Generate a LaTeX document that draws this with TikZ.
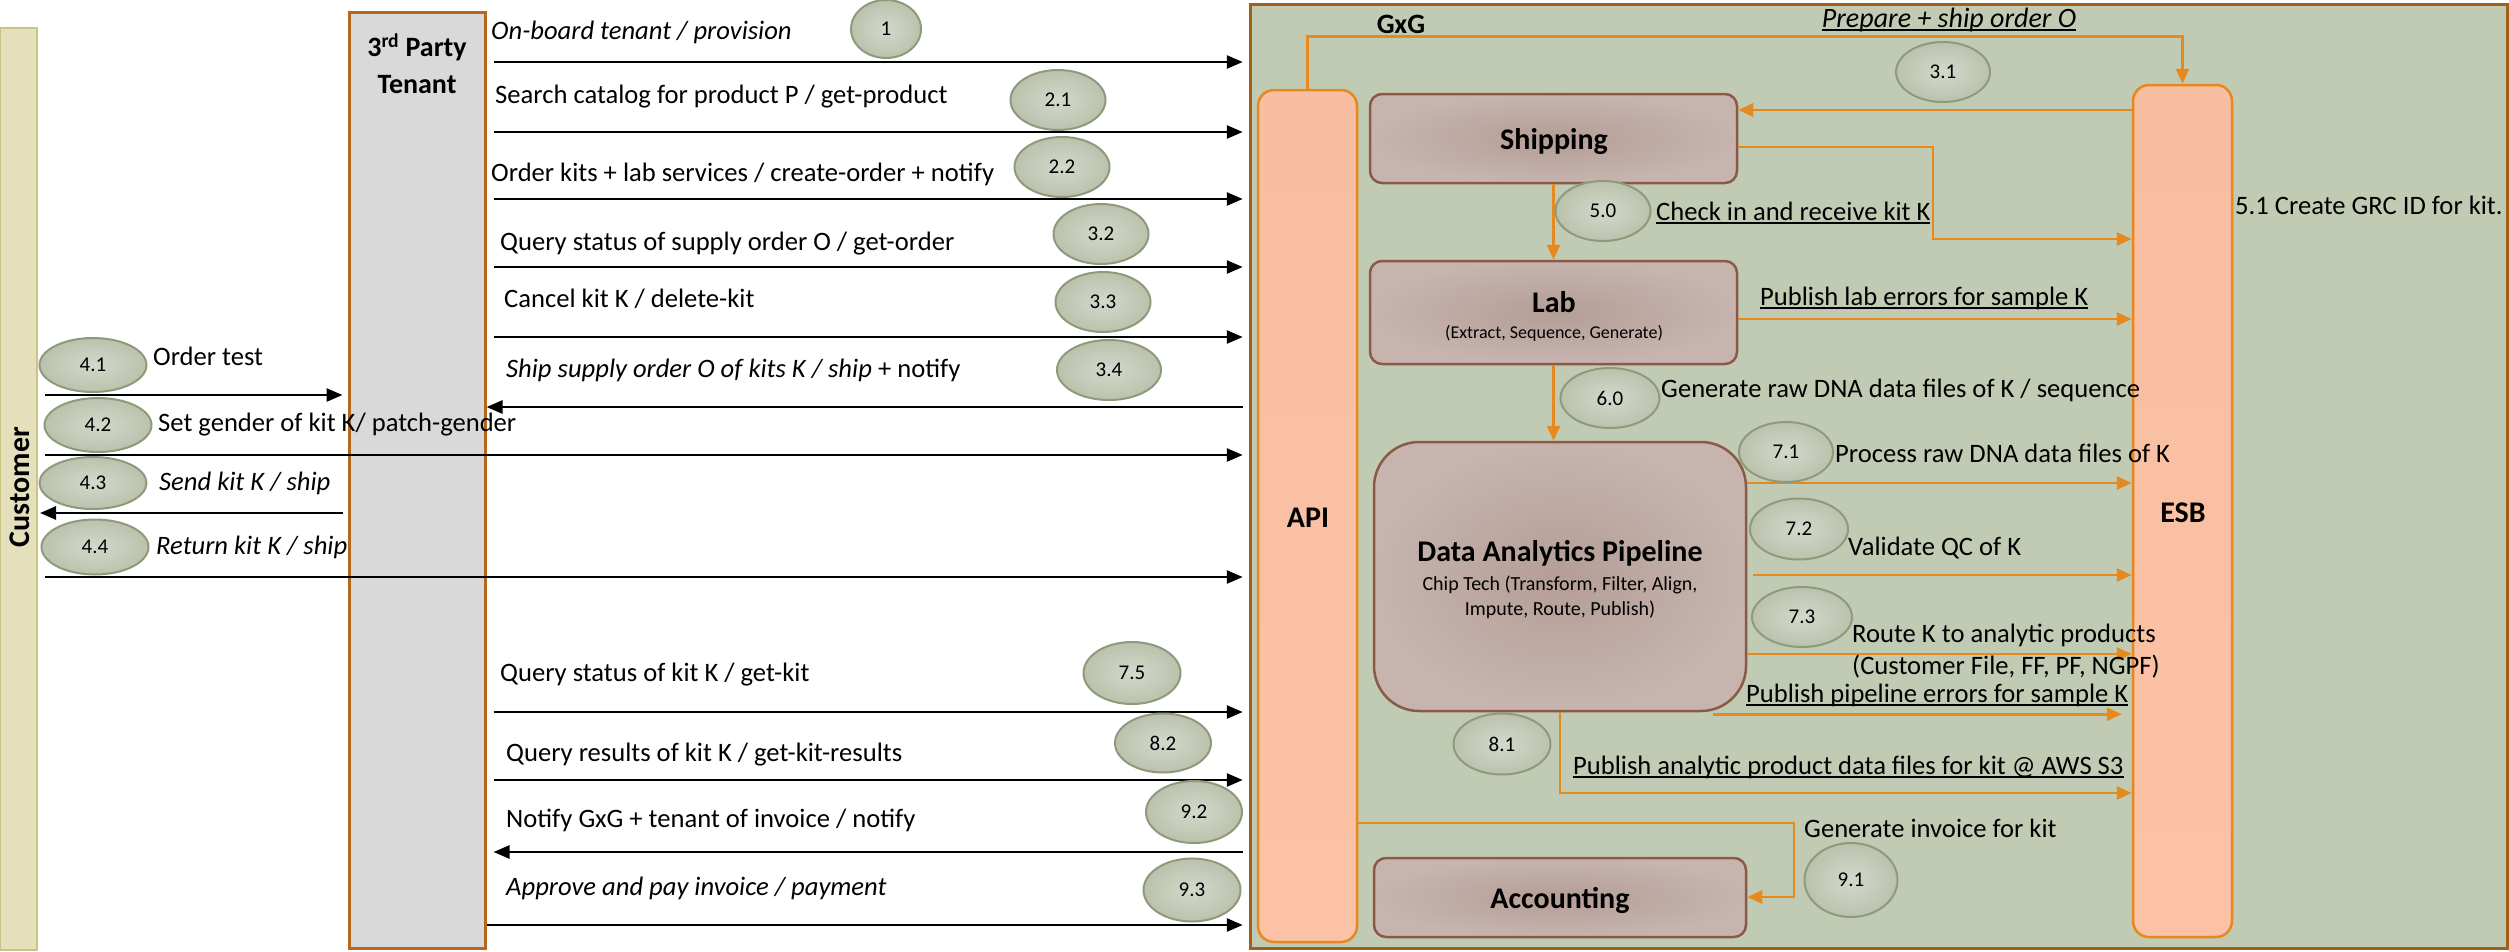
\documentclass[tikz,border=0pt]{standalone}
\usepackage{fontspec}
\setmainfont{Carlito}
\usetikzlibrary{shapes.geometric,arrows.meta,calc}
\definecolor{gxgfill}{HTML}{C1CBB3}
\definecolor{gxgborder}{HTML}{A35E1C}
\definecolor{custfill}{HTML}{E4E0BC}
\definecolor{custborder}{HTML}{C9C483}
\definecolor{tenfill}{HTML}{D9D9D9}
\definecolor{tenborder}{HTML}{B6661E}
\definecolor{numborder}{HTML}{8E9A7B}
\definecolor{numin}{HTML}{D3D9CC}
\definecolor{numout}{HTML}{BAC2AC}
\definecolor{boxin}{HTML}{B49E96}
\definecolor{boxout}{HTML}{C7B4AF}
\definecolor{boxborder}{HTML}{8B5A47}
\definecolor{bustop}{HTML}{F8BEA1}
\definecolor{busmid}{HTML}{F0AE8F}
\definecolor{busbot}{HTML}{FBC2A6}
\definecolor{busborder}{HTML}{E8871E}
\definecolor{orng}{HTML}{E68A1F}
\newcommand\undl[1]{\setbox0\hbox{#1}\leavevmode\rlap{\rule[-4pt]{\wd0}{2.4pt}}\box0}
\begin{document}
\begin{tikzpicture}[x=1pt,y=-1pt]
\tikzset{
 lbl/.style={font=\fontsize{26.6}{30}\selectfont, inner sep=0pt, anchor=west},
 ttl/.style={font=\fontsize{30}{34}\selectfont\bfseries, inner sep=0pt},
 num/.style={ellipse, draw=numborder, line width=2pt, inner color=numin, outer color=numout,
   font=\fontsize{21}{24}\selectfont, inner sep=0pt, minimum width=95pt, minimum height=60pt},
 box/.style={rectangle, rounded corners=12pt, draw=boxborder, line width=2.5pt, inner color=boxin, outer color=boxout, inner sep=0pt},
 bus/.style={rectangle, rounded corners=16pt, draw=busborder, line width=2.5pt, top color=bustop, middle color=busmid, bottom color=busbot, inner sep=0pt, minimum width=99pt, minimum height=852pt},
 barr/.style={draw=black, line width=2.6pt, -{Triangle[length=16pt,width=13pt]}},
 oarr/.style={draw=orng, line width=2.8pt, -{Triangle[length=15pt,width=13pt]}},
}
\useasboundingbox (0,0) rectangle (2509,951);
% containers
\node[rectangle, fill=custfill, draw=custborder, line width=2pt, minimum width=37pt, minimum height=922pt, inner sep=0pt] (cust) at (18.5,489) {};
\node[rectangle, fill=tenfill, draw=tenborder, line width=3pt, minimum width=136pt, minimum height=936pt, inner sep=0pt] (tenant) at (417,480) {};
\node[rectangle, fill=gxgfill, draw=gxgborder, line width=3pt, minimum width=1257pt, minimum height=944pt, inner sep=0pt] (gxg) at (1878.5,476) {};
\node[rotate=90, font=\fontsize{30}{34}\selectfont\bfseries, inner sep=0pt] (custlbl) at (20,487) {Customer};
\node[font=\fontsize{28}{32}\selectfont\bfseries, inner sep=0pt] (tenlbl1) at (417,47) {3\textsuperscript{rd} Party};
\node[font=\fontsize{28}{32}\selectfont\bfseries, inner sep=0pt] (tenlbl2) at (417,85) {Tenant};
\node[font=\fontsize{28}{32}\selectfont\bfseries, inner sep=0pt] (gxglbl) at (1401,24) {GxG};
% buses
\node[bus] (api) at (1307.5,516) {};
\node[bus] (esb) at (2182.5,511) {};
\node[ttl] (apilbl) at (1308,518) {API};
\node[ttl] (esblbl) at (2183,513) {ESB};
% boxes
\node[box, minimum width=367pt, minimum height=89pt] (ship) at (1553.5,138.5) {};
\node[box, minimum width=367pt, minimum height=103pt] (lab) at (1553.5,312.5) {};
\node[box, rounded corners=45pt, minimum width=372pt, minimum height=269pt] (dap) at (1560,576.5) {};
\node[box, minimum width=372pt, minimum height=79pt] (acct) at (1560,897.5) {};
\node[ttl] (shiplbl) at (1554,142) {Shipping};
\node[ttl] (lablbl) at (1554,302) {Lab};
\node[font=\fontsize{18}{22}\selectfont, inner sep=0pt] (labsub) at (1554,333) {(Extract, Sequence, Generate)};
\node[ttl] (daplbl) at (1560,553) {Data Analytics Pipeline};
\node[font=\fontsize{20}{24}\selectfont, inner sep=0pt] (dapsub1) at (1560,585) {Chip Tech (Transform, Filter, Align,};
\node[font=\fontsize{20}{24}\selectfont, inner sep=0pt] (dapsub2) at (1560,610) {Impute, Route, Publish)};
\node[ttl] (acctlbl) at (1560,900) {Accounting};
% helper x-lines
\coordinate (tx) at ($(tenant.east)+(7,0)$);
\coordinate (ax) at ($(api.west)+(-14,0)$);
\coordinate (cx) at ($(cust.east)+(7,0)$);
\coordinate (cxt) at ($(cust.east)+(2,0)$);
\coordinate (tw) at ($(tenant.west)+(-5,0)$);
% black arrows tenant <-> API
\draw[barr] (tx |- 0,62) -- (ax |- 0,62);
\draw[barr] (tx |- 0,132) -- (ax |- 0,132);
\draw[barr] (tx |- 0,199) -- (ax |- 0,199);
\draw[barr] (tx |- 0,267) -- (ax |- 0,267);
\draw[barr] (tx |- 0,337) -- (ax |- 0,337);
\draw[barr] (ax |- 0,407) -- (tenant.east |- 0,407);
\draw[barr] (tx |- 0,712) -- (ax |- 0,712);
\draw[barr] (tx |- 0,780) -- (ax |- 0,780);
\draw[barr] (ax |- 0,852) -- (tx |- 0,852);
\draw[barr] (tenant.east |- 0,925) -- (ax |- 0,925);
% customer arrows
\draw[barr] (cx |- 0,395) -- (tw |- 0,395);
\draw[barr] (cx |- 0,455) -- (ax |- 0,455);
\draw[barr] (tw |- 0,513) -- (cxt |- 0,513);
\draw[barr] (cx |- 0,577) -- (ax |- 0,577);
% left labels
\node[lbl] (l1) at (491,32) {\textit{On-board tenant / provision}};
\node[lbl] (l21) at (495,97) {Search catalog for product P / get-product};
\node[lbl] (l22) at (491,174) {Order kits + lab services / create-order + notify};
\node[lbl] (l32) at (500,244) {Query status of supply order O / get-order};
\node[lbl] (l33) at (504,299) {Cancel kit K / delete-kit};
\node[lbl] (l34) at (506,370) {\textit{Ship supply order O of kits K / ship} + notify};
\node[lbl] (l41) at (153,356) {Order test};
\node[lbl] (l42) at (158,425) {Set gender of kit K/ patch-gender};
\node[lbl] (l43) at (159,483) {\textit{Send kit K / ship}};
\node[lbl] (l44) at (156,547) {\textit{Return kit K / ship}};
\node[lbl] (l75) at (500,675) {Query status of kit K / get-kit};
\node[lbl] (l82) at (506,755) {Query results of kit K / get-kit-results};
\node[lbl] (l92) at (506,820) {Notify GxG + tenant of invoice / notify};
\node[lbl] (l93) at (506,888) {\textit{Approve and pay invoice / payment}};
% orange arrows
\coordinate (c1) at (1933,239);
\coordinate (c3) at (1794,897);
\coordinate (perr) at ($(dap.south east)+(-34,2)$);
\draw[oarr] (api.north) -- ++(0,-52) -| (esb.north);
\draw[oarr] (esb.west |- 0,110) -- (ship.east |- 0,110);
\draw[oarr] (ship.east |- 0,147) -| (c1) -- (esb.west |- c1);
\draw[oarr] (ship.south) -- (lab.north);
\draw[oarr] (lab.east |- 0,319) -- (esb.west |- 0,319);
\draw[oarr] (lab.south) -- (lab.south |- dap.north);
\draw[oarr] (dap.east |- 0,483) -- (esb.west |- 0,483);
\draw[oarr] ($(dap.east |- 0,575)+(6,0)$) -- (esb.west |- 0,575);
\draw[oarr] (dap.east |- 0,654) -- (esb.west |- 0,654);
\draw[oarr] (perr) -- ($(esb.west |- perr)+(-10,0)$);
\draw[oarr] (dap.south) |- (esb.west |- 0,793);
\draw[oarr] (api.east |- 0,823) -| (c3) -- (acct.east |- c3);
% GxG labels
\node[lbl, anchor=center, font=\fontsize{28}{32}\selectfont] (lprep) at (1949,20) {\undl{\textit{Prepare + ship order O}}};
\node[lbl] (l50) at (1656,213) {\undl{Check in and receive kit K}};
\node[lbl] (l51) at (2235,205) {5.1 Create GRC ID for kit.};
\node[lbl] (llab) at (1760,298) {\undl{Publish lab errors for sample K}};
\node[lbl] (l60) at (1661,390) {Generate raw DNA data files of K / sequence};
\node[lbl] (l71) at (1835,453) {Process raw DNA data files of K};
\node[lbl] (l72) at (1848,548) {Validate QC of K};
\node[lbl] (l73a) at (1852,635) {Route K to analytic products};
\node[lbl] (l73b) at (1852,667) {(Customer File, FF, PF, NGPF)};
\node[lbl] (lperr) at (1746,695) {\undl{Publish pipeline errors for sample K}};
\node[lbl] (l81) at (1573,767) {\undl{Publish analytic product data files for kit @ AWS S3}};
\node[lbl] (l91) at (1804,828) {Generate invoice for kit};
% number ellipses
\node[num, minimum width=70pt, minimum height=58pt] (e1) at (886,29) {1};
\node[num] (e21) at (1058,100) {2.1};
\node[num] (e22) at (1062,167) {2.2};
\node[num] (e32) at (1101,234) {3.2};
\node[num] (e33) at (1103,302) {3.3};
\node[num, minimum width=104pt] (e34) at (1109,370) {3.4};
\node[num, minimum width=107pt, minimum height=54pt] (e41) at (93,365) {4.1};
\node[num, minimum width=107pt, minimum height=54pt] (e42) at (98,425) {4.2};
\node[num, minimum width=107pt, minimum height=52pt] (e43) at (93,483) {4.3};
\node[num, minimum width=107pt, minimum height=55pt] (e44) at (95,547) {4.4};
\node[num, minimum width=97pt, minimum height=62pt] (e75) at (1132,673) {7.5};
\node[num, minimum width=96pt, minimum height=59pt] (e82) at (1163,743) {8.2};
\node[num, minimum width=96pt, minimum height=62pt] (e92) at (1194,812) {9.2};
\node[num, minimum width=97pt, minimum height=63pt] (e93) at (1192,890) {9.3};
\node[num, minimum width=97pt, minimum height=61pt] (e81) at (1502,744) {8.1};
\node[num, minimum width=94pt] (e31) at (1943,72) {3.1};
\node[num] (e50) at (1603,211) {5.0};
\node[num, minimum width=99pt] (e60) at (1610,398) {6.0};
\node[num, minimum width=94pt] (e71) at (1786,452) {7.1};
\node[num, minimum width=98pt, minimum height=61pt] (e72) at (1799,529) {7.2};
\node[num, minimum width=100pt] (e73) at (1802,617) {7.3};
\node[num, minimum width=93pt, minimum height=74pt] (e91) at (1851,880) {9.1};
\end{tikzpicture}
\end{document}
